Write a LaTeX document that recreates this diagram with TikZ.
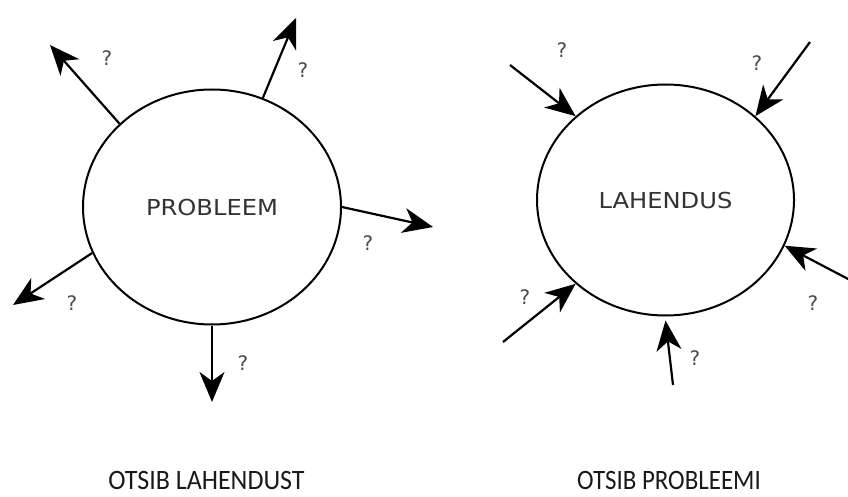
\documentclass[tikz,border=0pt]{standalone}
\usepackage{fontspec}
\setmainfont{DejaVu Sans}
\newfontfamily\labfont{Carlito}
\usetikzlibrary{shapes.geometric,arrows.meta}
\begin{document}
\begin{tikzpicture}[x=1pt,y=-1pt,
  blob/.style={draw=black, line width=2pt, ellipse, inner sep=0pt, text=black!80,
    font=\fontsize{22}{24}\selectfont},
  arr/.style={line width=2.2pt, -{Stealth[length=30pt,width=25pt,inset=9pt]}},
  qm/.style={text=black!70, font=\fontsize{20}{22}\selectfont, inner sep=0pt},
  caption/.style={text=black!90, font=\labfont\fontsize{26}{28}\selectfont, inner sep=0pt, anchor=base}]
\useasboundingbox (0,0) rectangle (848,497);
\fill[white] (0,0) rectangle (848,497);
% left circle
\node[blob, minimum width=258pt, minimum height=235pt] (L) at (212,207) {\scalebox{1.1}[1]{PROBLEEM}};
\coordinate (l1) at (50,45);
\coordinate (l2) at (296,18);
\coordinate (l3) at (433,227);
\coordinate (l4) at (13,305);
\coordinate (l5) at (212,402);
\draw[arr] (L.138) -- (l1);
\draw[arr] (L.65) -- (l2);
\draw[arr] (L.0) -- (l3);
\draw[arr] (L.201) -- (l4);
\draw[arr] (L.270) -- (l5);
\node[qm] (q1) at (107,58) {?};
\node[qm] (q2) at (303,70) {?};
\node[qm] (q3) at (368,243) {?};
\node[qm] (q4) at (72,303) {?};
\node[qm] (q5) at (243,363) {?};
% right circle
\node[blob, minimum width=257pt, minimum height=231pt] (R) at (665.5,200) {\scalebox{1.1}[1]{LAHENDUS}};
\coordinate (r1) at (510,65);
\coordinate (r2) at (810,42);
\coordinate (r3) at (850,280);
\coordinate (r4) at (503,342);
\coordinate (r5) at (673,385);
\draw[arr] (r1) -- (R.137);
\draw[arr] (r2) -- (R.43);
\draw[arr] (r3) -- (R.-21);
\draw[arr] (r4) -- (R.223);
\draw[arr] (r5) -- ([yshift=-4pt]R.south);
\node[qm] (p1) at (562,50) {?};
\node[qm] (p2) at (757,63) {?};
\node[qm] (p3) at (813,303) {?};
\node[qm] (p4) at (525,297) {?};
\node[qm] (p5) at (695,358) {?};
% captions
\node[caption] (c1) at (206.5,489) {\scalebox{1}[1.08]{OTSIB LAHENDUST}};
\node[caption] (c2) at (669,489) {\scalebox{0.96}[1.08]{OTSIB PROBLEEMI}};
\end{tikzpicture}
\end{document}
